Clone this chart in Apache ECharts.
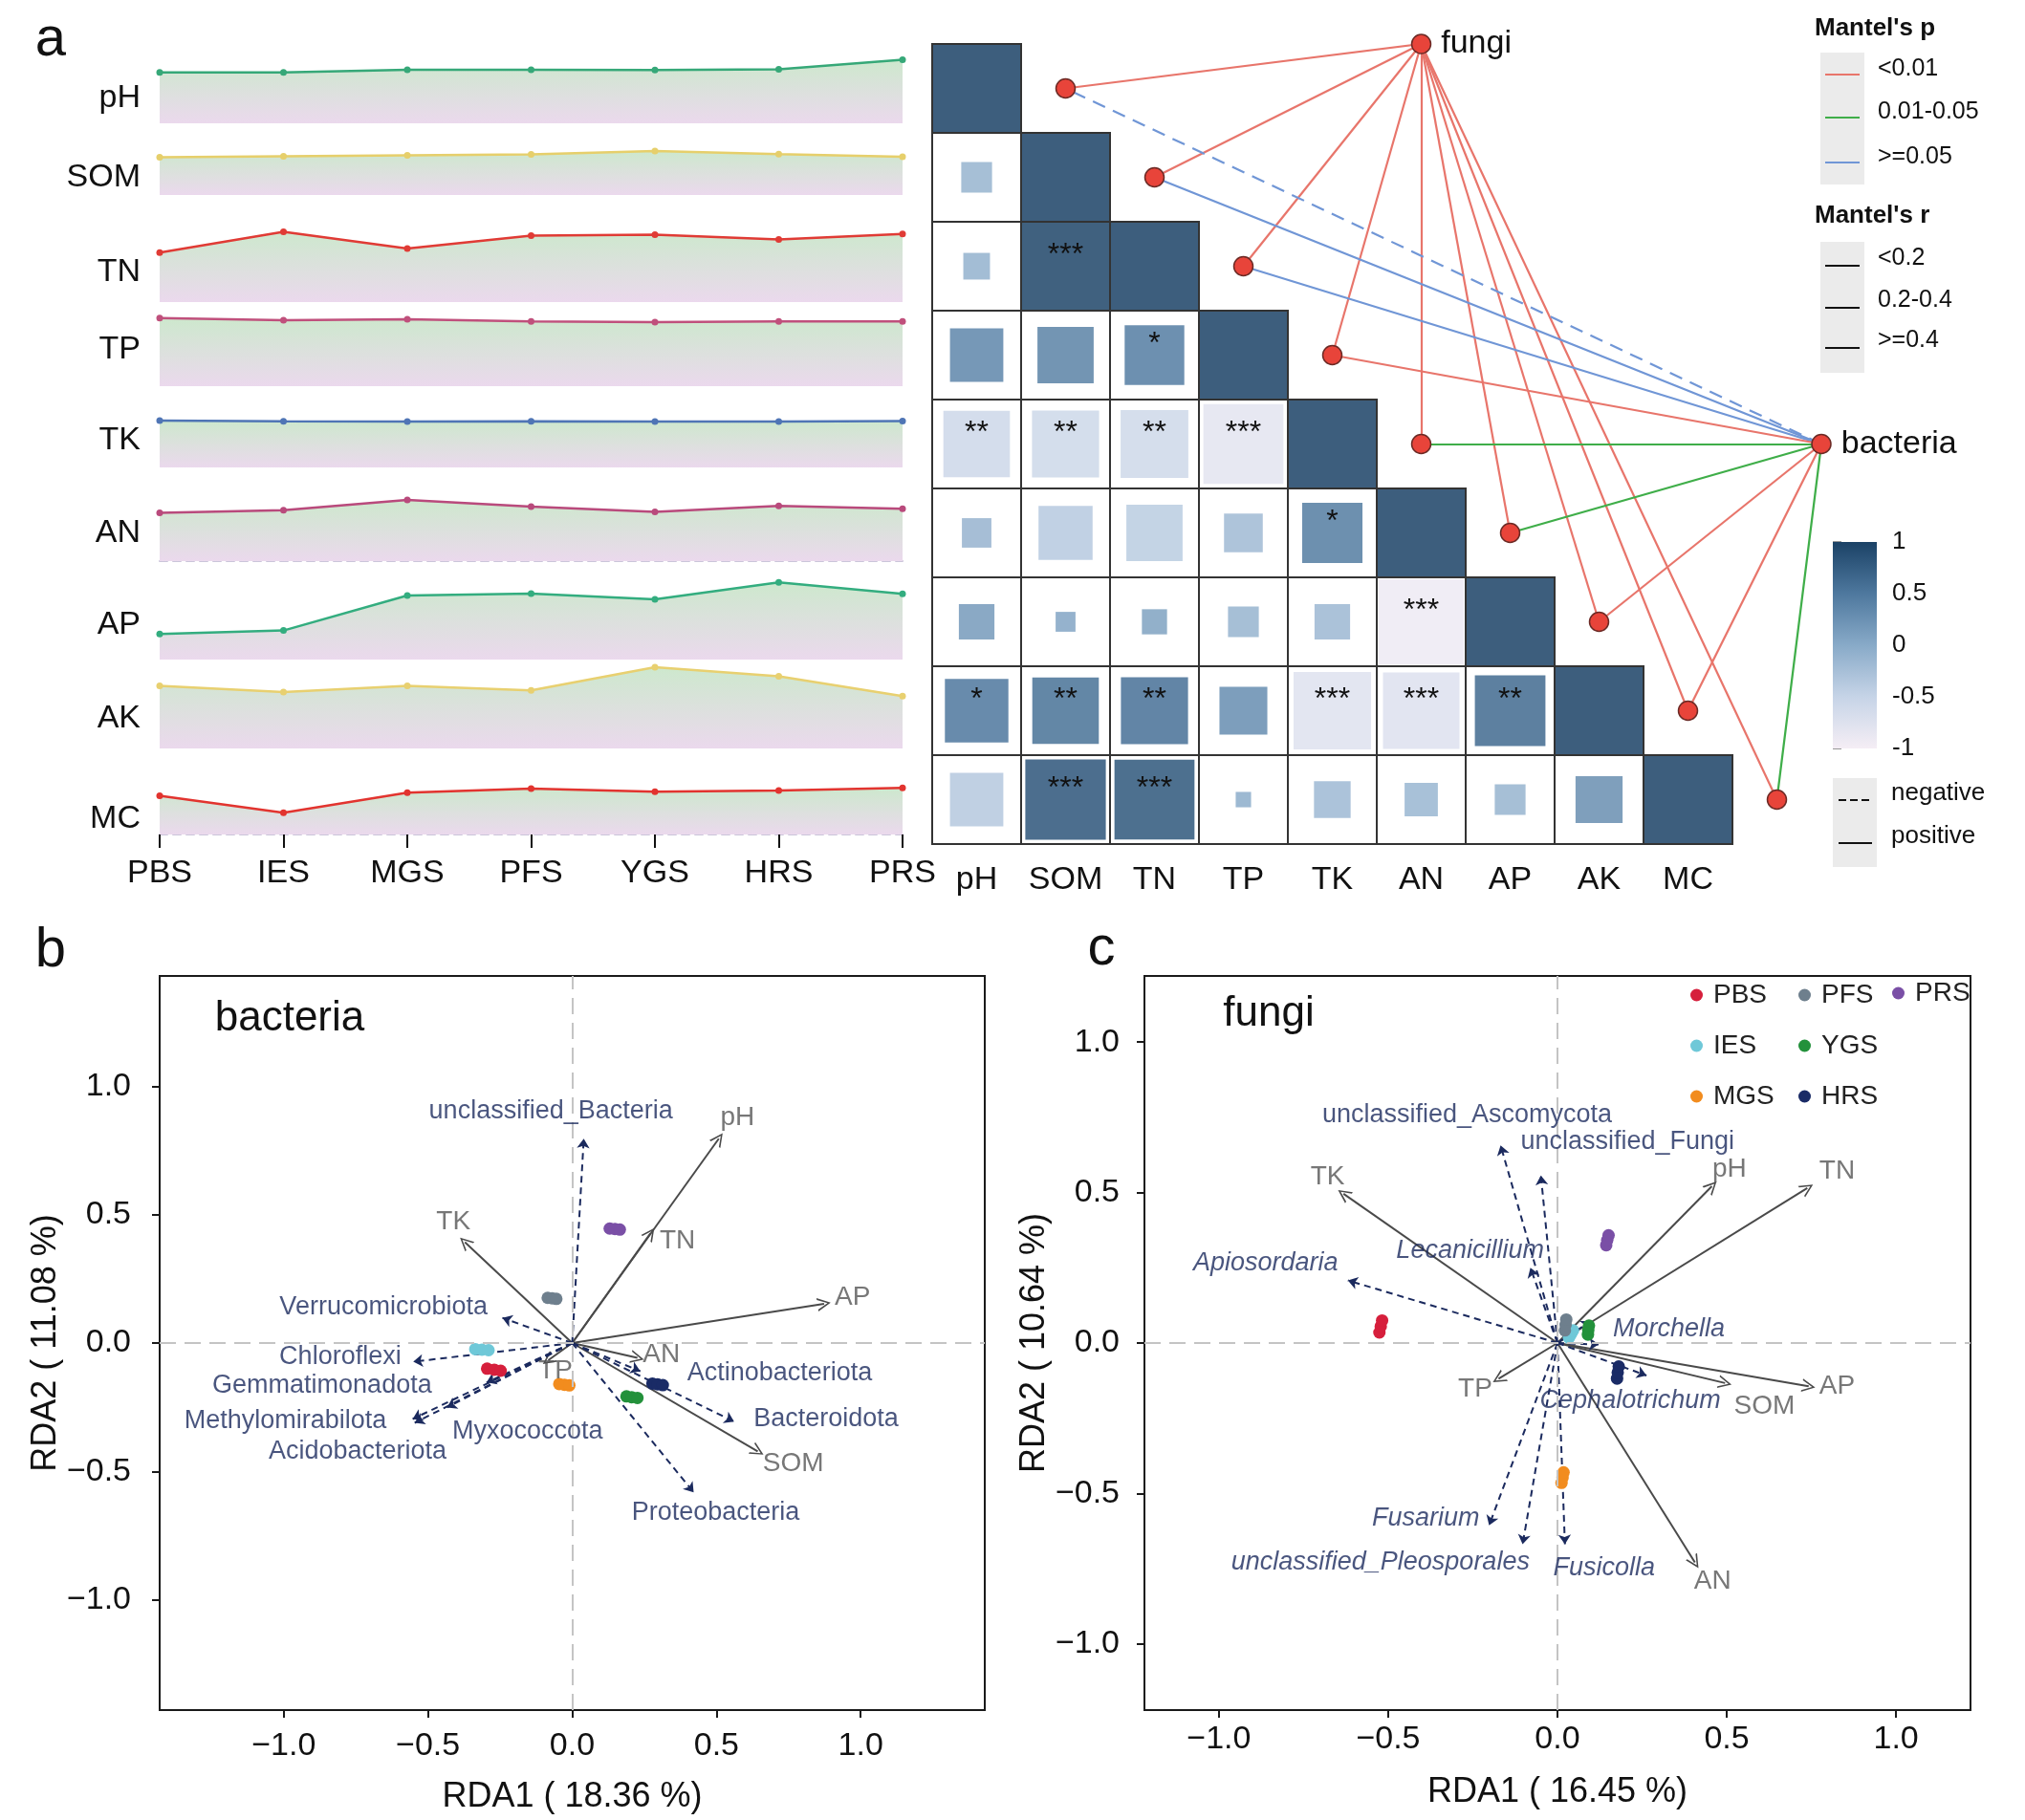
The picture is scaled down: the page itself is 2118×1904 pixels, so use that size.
<!DOCTYPE html>
<html><head><meta charset="utf-8">
<script src="https://cdn.jsdelivr.net/npm/echarts@6/dist/echarts.min.js"></script>
<style>html,body{margin:0;padding:0;background:#fff}#c{width:2118px;height:1904px}</style>
</head><body><div id="c"></div>
<script>
// ================= DATA =================
const sites = ['PBS','IES','MGS','PFS','YGS','HRS','PRS'];
const soilVars = ['pH','SOM','TN','TP','TK','AN','AP','AK','MC'];

// panel a (left): relative level of each soil property per site (0-100 relative scale)
const relPH  = [59.3, 59.3, 62.2, 62.2, 61.9, 62.7, 73.8];
const relSOM = [43.8, 44.9, 46.0, 47.1, 51.1, 47.4, 44.4];
const relTN  = [57.4, 81.6, 62.2, 77.1, 78.2, 72.7, 79.3];
const relTP  = [79.3, 76.7, 77.8, 75.2, 74.4, 75.2, 75.2];
const relTK  = [54.4, 53.7, 53.3, 53.7, 53.3, 53.3, 54.0];
const relAN  = [56.0, 59.3, 71.1, 63.3, 57.1, 64.1, 60.8];
const relAP  = [29.7, 33.8, 74.4, 76.7, 70.0, 89.7, 76.3];
const relAK  = [72.7, 65.6, 72.7, 67.4, 94.4, 83.8, 60.8];
const relMC  = [44.9, 25.2, 48.6, 53.3, 49.7, 51.1, 54.1];

// panel a (heatmap): lower-triangle Pearson r (row i, cols 0..i)
const corrR = [
  [1],
  [-0.12, 1],
  [-0.09, 0.97, 1],
  [0.36, 0.40, 0.45, 1],
  [-0.56, -0.57, -0.58, -0.81, 1],
  [-0.11, -0.37, -0.40, -0.19, 0.46, 1],
  [0.16, 0.05, 0.08, -0.12, -0.16, -0.92, 1],
  [0.51, 0.56, 0.57, 0.29, -0.76, -0.74, 0.63, 1],
  [-0.36, 0.82, 0.81, -0.03, -0.17, -0.14, -0.12, 0.28, 1]
];
const corrSig = [
  [''],
  ['', ''],
  ['', '***', ''],
  ['', '', '*', ''],
  ['**', '**', '**', '***', ''],
  ['', '', '', '', '*', ''],
  ['', '', '', '', '', '***', ''],
  ['*', '**', '**', '', '***', '***', '**', ''],
  ['', '***', '***', '', '', '', '', '', '']
];

// Mantel tests
const pLevels = ['<0.01', '0.01-0.05', '>=0.05'];
const rLevels = ['<0.2', '0.2-0.4', '>=0.4'];
const signLevels = ['negative', 'positive'];
const mantelFungiP    = ['<0.01','<0.01','<0.01','<0.01','<0.01','<0.01','<0.01','<0.01','<0.01'];
const mantelFungiSign = ['positive','positive','positive','positive','positive','positive','positive','positive','positive'];
const mantelBactP     = ['>=0.05','>=0.05','>=0.05','<0.01','0.01-0.05','0.01-0.05','<0.01','<0.01','0.01-0.05'];
const mantelBactSign  = ['negative','positive','positive','positive','positive','positive','positive','positive','positive'];
const colorbarTicks = [-1, -0.5, 0, 0.5, 1];

// panel b: bacteria RDA
const bEnvNames = ['pH','TN','TK','AP','AN','SOM','TP'];
const bEnvX = [0.508, 0.271, -0.372, 0.873, 0.226, 0.643, -0.083];
const bEnvY = [0.796, 0.427, 0.393, 0.153, -0.058, -0.422, -0.067];
const bSpNames = ['unclassified_Bacteria','Verrucomicrobiota','Chloroflexi','Gemmatimonadota','Methylomirabilota',
                  'Acidobacteriota','Myxococcota','Actinobacteriota','Bacteroidota','Proteobacteria'];
const bSpX = [0.040, -0.242, -0.551, -0.297, -0.553, -0.546, -0.434, 0.236, 0.561, 0.421];
const bSpY = [0.796, 0.098, -0.073, -0.154, -0.296, -0.311, -0.251, -0.110, -0.306, -0.582];
const bSamples = [
  [[-0.295,-0.100],[-0.270,-0.104],[-0.248,-0.108]],   // PBS
  [[-0.336,-0.024],[-0.313,-0.026],[-0.290,-0.028]],   // IES
  [[-0.045,-0.160],[-0.027,-0.163],[-0.010,-0.165]],   // MGS
  [[-0.085,0.176],[-0.070,0.174],[-0.055,0.172]],      // PFS
  [[0.188,-0.208],[0.206,-0.211],[0.226,-0.214]],      // YGS
  [[0.278,-0.158],[0.296,-0.161],[0.314,-0.164]],      // HRS
  [[0.130,0.446],[0.148,0.444],[0.165,0.442]]          // PRS
];

// panel c: fungi RDA
const cEnvNames = ['TK','pH','TN','AP','SOM','AN','TP'];
const cEnvX = [-0.632, 0.456, 0.738, 0.742, 0.495, 0.406, -0.174];
const cEnvY = [0.496, 0.521, 0.515, -0.144, -0.133, -0.729, -0.119];
const cSpNames = ['unclassified_Ascomycota','unclassified_Fungi','Lecanicillium','Apiosordaria','Morchella','',
                  'Cephalotrichum','Fusarium','unclassified_Pleosporales','Fusicolla'];
const cSpX = [-0.168, -0.049, -0.080, -0.619, 0.099, 0.122, 0.263, -0.202, -0.103, 0.022];
const cSpY = [0.657, 0.557, 0.250, 0.208, 0.073, -0.005, -0.108, -0.606, -0.669, -0.669];
const cSpItalic = [false, false, true, true, true, true, true, true, true, true];
const cSamples = [
  [[-0.526,0.035],[-0.522,0.055],[-0.518,0.075]],      // PBS
  [[0.034,0.018],[0.040,0.030],[0.046,0.042]],         // IES
  [[0.012,-0.465],[0.015,-0.448],[0.018,-0.430]],      // MGS
  [[0.022,0.042],[0.024,0.060],[0.026,0.078]],         // PFS
  [[0.090,0.028],[0.091,0.043],[0.093,0.058]],         // YGS
  [[0.176,-0.118],[0.178,-0.098],[0.181,-0.078]],      // HRS
  [[0.144,0.325],[0.147,0.342],[0.151,0.358]]          // PRS
];
const rdaTicks = [-1, -0.5, 0, 0.5, 1];

// ================= LAYOUT / STYLE =================
const FONT = "'Liberation Sans', Arial, Helvetica, sans-serif";
const relSeries = [relPH, relSOM, relTN, relTP, relTK, relAN, relAP, relAK, relMC];
const lineColors = ['#36a878','#e6cf6b','#e03b35','#c0507c','#4f75b5','#b94a7c','#33ad7f','#e8d070','#e2342f'];
const panelBottoms = [129, 204, 316, 404, 489, 587, 690, 783, 873];
const PANEL_H = 90;
const rowLabelDy = [10, 0, 6, -6, -4, 0, 3, 8, 20];   // vertical nudge of row names (px)
const siteColors = ['#d61f3c','#6fc8d8','#f28c1e','#6e7f8d','#23913b','#1a2b66','#7a4fa6'];
const pColors = {'<0.01':'#e8756b', '0.01-0.05':'#3fae49', '>=0.05':'#7096d6'};
const cbStops = [[-1,'#f5eef5'],[-0.5,'#c6d4e7'],[0,'#88aac8'],[0.5,'#4e789e'],[1,'#1b4266']];
const HM_LEFT = 975, HM_TOP = 46, HM_W = 837, HM_H = 837;
const CELL = HM_W / 9;
const fungiAt = [5.5, 0.0], bactAt = [10.0, 4.5];   // network anchors (cell units)

// label placement (data units of each RDA panel)
const bEnvLabelAt = [[0.573,0.878],[0.365,0.396],[-0.412,0.471],[0.972,0.178],[0.309,-0.044],[0.766,-0.471],[-0.058,-0.109]];
const bSpLabelAt = [[-0.074,0.904],[-0.654,0.138],[-0.804,-0.056],[-0.867,-0.167],[-0.994,-0.304],
                    [-0.744,-0.422],[-0.155,-0.344],[0.719,-0.116],[0.880,-0.296],[0.497,-0.660]];
const cEnvLabelAt = [[-0.679,0.553],[0.508,0.576],[0.826,0.572],[0.826,-0.144],[0.611,-0.210],[0.458,-0.792],[-0.243,-0.152]];
const cSpLabelAt = [[-0.267,0.756],[0.207,0.670],[-0.258,0.307],[-0.862,0.265],[0.329,0.047],[0.2,0.0],
                    [0.215,-0.193],[-0.389,-0.583],[-0.523,-0.729],[0.138,-0.748]];

function hex2rgb(h){ h=h.replace('#',''); return [parseInt(h.substr(0,2),16),parseInt(h.substr(2,2),16),parseInt(h.substr(4,2),16)]; }
function rColor(r){
  for (let i=0;i<cbStops.length-1;i++){
    const a=cbStops[i], b=cbStops[i+1];
    if (r>=a[0] && r<=b[0]){
      const t=(r-a[0])/(b[0]-a[0]); const ca=hex2rgb(a[1]), cb=hex2rgb(b[1]);
      return 'rgb('+ca.map((v,k)=>Math.round(v+(cb[k]-v)*t)).join(',')+')';
    }
  }
  return r<0?cbStops[0][1]:cbStops[cbStops.length-1][1];
}
const fmtTick = v => (v<0?'\u2212':'') + Math.abs(v).toFixed(1);

const grid = [], xAxis = [], yAxis = [], series = [];

// ---- panel a: line panels (grids 0..8)
relSeries.forEach((vals,k)=>{
  grid.push({left:167, right:2118-944, top:panelBottoms[k]-PANEL_H, height:PANEL_H});
  const last = k===8;
  xAxis.push({gridIndex:k, type:'category', data:sites, boundaryGap:false,
    axisLine:{show:(k===5||k===8), lineStyle:{type:[8,6], color:'#cbc5da', width:2}},
    axisTick:{show:last, length:14, lineStyle:{color:'#111', width:2}},
    axisLabel:{show:last, fontSize:34, color:'#111', margin:24, fontFamily:FONT, interval:0},
    splitLine:{show:false}});
  yAxis.push({gridIndex:k, type:'value', min:0, max:100, show:false});
  series.push({type:'line', xAxisIndex:k, yAxisIndex:k, data:vals, symbol:'circle', symbolSize:7,
    lineStyle:{color:lineColors[k], width:2.5}, itemStyle:{color:lineColors[k]},
    areaStyle:{opacity:1, color:new echarts.graphic.LinearGradient(0,0,0,1,[{offset:0,color:'#cde8cd'},{offset:1,color:'#ebd9ed'}])},
    z:2, silent:true});
});

// ---- heatmap grid (9)
const rowRich = {};
rowLabelDy.forEach((d,i)=>{ rowRich['o'+i] = {fontSize:34, color:'#111', fontFamily:FONT, padding: d>=0 ? [2*d,0,0,0] : [0,0,-2*d,0]}; });
grid.push({left:HM_LEFT, top:HM_TOP, width:HM_W, height:HM_H});
xAxis.push({gridIndex:9, type:'category', data:soilVars, axisLine:{show:false}, axisTick:{show:false},
  axisLabel:{fontSize:34, color:'#111', margin:21, interval:0, fontFamily:FONT}, splitLine:{show:false}});
yAxis.push({gridIndex:9, type:'category', data:soilVars, inverse:true, axisLine:{show:false}, axisTick:{show:false},
  axisLabel:{fontSize:34, color:'#111', margin:HM_LEFT-147, interval:0, fontFamily:FONT,
    formatter:(v,idx)=>'{o'+idx+'|'+v+'}', rich:rowRich}, splitLine:{show:false}});
const cells = [];
corrR.forEach((row,i)=>row.forEach((r,j)=>cells.push({value:[j,i,r], sig:corrSig[i][j]})));
series.push({type:'custom', xAxisIndex:9, yAxisIndex:9, data:cells.map(c=>c.value), z:3, silent:true,
  renderItem:(params, api)=>{
    const c = api.coord([api.value(0), api.value(1)]);
    const s = api.size([1,1]); const w=s[0], h=s[1];
    const r = api.value(2); const f = Math.sqrt(Math.abs(r));
    const sig = cells[params.dataIndex].sig;
    return {type:'group', children:[
      {type:'rect', shape:{x:c[0]-w/2, y:c[1]-h/2, width:w, height:h}, style:{fill:'#fff'}},
      {type:'rect', shape:{x:c[0]-w*f/2, y:c[1]-h*f/2, width:w*f, height:h*f}, style:{fill:rColor(r), opacity:0.85}},
      {type:'rect', shape:{x:c[0]-w/2, y:c[1]-h/2, width:w, height:h}, style:{fill:'none', stroke:'#333', lineWidth:2}},
      {type:'text', style:{text:sig, x:c[0], y:c[1]-0.12*h, align:'center', verticalAlign:'middle',
        textAlign:'center', textVerticalAlign:'middle', font:'32px '+FONT, fill:'#111'}}
    ]};
  }});

// ---- network grid (10)
grid.push({left:HM_LEFT, top:HM_TOP, width:CELL*11, height:HM_H});
xAxis.push({gridIndex:10, type:'value', min:0, max:11, show:false});
yAxis.push({gridIndex:10, type:'value', min:0, max:9, inverse:true, show:false});
const nodePos = soilVars.map((v,i)=>[i+1.5, i+0.5]);
const edges = [];
soilVars.forEach((v,i)=>{
  edges.push({coords:[fungiAt, nodePos[i]], lineStyle:{color:pColors[mantelFungiP[i]], type:mantelFungiSign[i]==='negative'?[14,9]:'solid'}});
});
soilVars.forEach((v,i)=>{
  edges.push({coords:[bactAt, nodePos[i]], lineStyle:{color:pColors[mantelBactP[i]], type:mantelBactSign[i]==='negative'?[14,9]:'solid'}});
});
series.push({type:'lines', coordinateSystem:'cartesian2d', xAxisIndex:10, yAxisIndex:10, data:edges,
  lineStyle:{width:2.2, opacity:1}, symbol:['none','none'], z:4, silent:true});
series.push({type:'scatter', xAxisIndex:10, yAxisIndex:10, symbolSize:20, z:5, silent:true,
  itemStyle:{color:'#e8443a', borderColor:'#6b2a25', borderWidth:1.5, opacity:1},
  label:{show:true, position:'right', distance:10, fontSize:34, color:'#111', fontFamily:FONT, formatter:'{b}'},
  data: nodePos.map(p=>({value:p, name:'', label:{show:false}}))
        .concat([{value:fungiAt, name:'fungi'},{value:bactAt, name:'bacteria'}])});

// ---- colorbar grid (11)
grid.push({left:1917, top:567, width:46, height:216});
xAxis.push({gridIndex:11, type:'value', min:0, max:1, show:false});
yAxis.push({gridIndex:11, type:'value', min:-1, max:1, interval:0.5, position:'right',
  axisLine:{show:false}, splitLine:{show:false},
  axisTick:{show:true, length:9, lineStyle:{color:'#777', width:1.5}},
  axisLabel:{fontSize:26, color:'#111', margin:16, fontFamily:FONT, formatter:v=>String(v)}});
series.push({type:'custom', xAxisIndex:11, yAxisIndex:11, data:[[0]], silent:true,
  renderItem:(params, api)=>{
    const tl = api.coord([0, colorbarTicks[colorbarTicks.length-1]]);
    const br = api.coord([1, colorbarTicks[0]]);
    const stops = cbStops.slice().reverse().map(s=>({offset:(1-s[0])/2, color:s[1]}));
    return {type:'rect', shape:{x:tl[0], y:tl[1], width:br[0]-tl[0], height:br[1]-tl[1]},
      style:{fill:new echarts.graphic.LinearGradient(0,0,0,1,stops)}};
  }});

// ---- RDA panels (12: bacteria, 13: fungi)
const chevron = 'path://M0,12 L6,0 L12,12 L10.4,12 L6,2.9 L1.6,12 Z';
function rdaPanel(gi, box, lim, xName, yName, lay, env, envLab, sp, spLab, spItalic, samples){
  grid.push({left:box[0], top:box[1], width:box[2], height:box[3], show:true, borderColor:'#1a1a1a', borderWidth:2, backgroundColor:'rgba(0,0,0,0)'});
  xAxis.push({gridIndex:gi, type:'value', min:-lim, max:lim, splitLine:{show:false},
    axisLine:{show:true, onZero:false, lineStyle:{color:'#1a1a1a', width:2}},
    axisTick:{show:true, customValues:rdaTicks, length:8, lineStyle:{color:'#1a1a1a', width:2}},
    axisLabel:{customValues:rdaTicks, formatter:fmtTick, fontSize:34, color:'#111', margin:lay.xMargin, fontFamily:FONT},
    name:xName, nameLocation:'middle', nameGap:lay.xNameGap, nameTextStyle:{fontSize:36, color:'#111', fontFamily:FONT}});
  yAxis.push({gridIndex:gi, type:'value', min:-lim, max:lim, splitLine:{show:false},
    axisLine:{show:true, onZero:false, lineStyle:{color:'#1a1a1a', width:2}},
    axisTick:{show:true, customValues:rdaTicks, length:8, lineStyle:{color:'#1a1a1a', width:2}},
    axisLabel:{customValues:rdaTicks, formatter:fmtTick, fontSize:34, color:'#111', margin:lay.yMargin, fontFamily:FONT},
    name:yName, nameLocation:'middle', nameGap:lay.yNameGap, nameTextStyle:{fontSize:36, color:'#111', fontFamily:FONT}});
  // zero reference lines
  series.push({type:'scatter', xAxisIndex:gi, yAxisIndex:gi, data:[[0,0]], symbolSize:0, silent:true, z:1,
    markLine:{silent:true, symbol:'none', label:{show:false}, animation:false,
      lineStyle:{type:[17,9], color:'#c4c4c4', width:2}, data:[{xAxis:0},{yAxis:0}]}});
  // environmental arrows
  series.push({type:'lines', coordinateSystem:'cartesian2d', xAxisIndex:gi, yAxisIndex:gi, silent:true, z:3,
    symbol:['none', chevron], symbolSize:14, lineStyle:{color:'#4a4a4a', width:2, opacity:1},
    data: env.names.map((n,i)=>({coords:[[0,0],[env.x[i], env.y[i]]]}))});
  // species arrows
  series.push({type:'lines', coordinateSystem:'cartesian2d', xAxisIndex:gi, yAxisIndex:gi, silent:true, z:3,
    symbol:['none','arrow'], symbolSize:10, lineStyle:{color:'#1b2a5e', width:2, type:[7,5], opacity:1},
    data: sp.names.map((n,i)=>({coords:[[0,0],[sp.x[i], sp.y[i]]]}))});
  // samples
  sites.forEach((s,k)=>{
    series.push({type:'scatter', name:s, xAxisIndex:gi, yAxisIndex:gi, data:samples[k], symbolSize:13, z:4,
      itemStyle:{color:siteColors[k], opacity:1}, silent:true});
  });
  // labels
  series.push({type:'scatter', xAxisIndex:gi, yAxisIndex:gi, symbolSize:1, z:6, silent:true,
    itemStyle:{color:'rgba(0,0,0,0)'},
    label:{show:true, position:'inside', formatter:'{b}', fontSize:28, color:'#555', fontFamily:FONT},
    data: env.names.map((n,i)=>({name:n, value:envLab[i]}))});
  series.push({type:'scatter', xAxisIndex:gi, yAxisIndex:gi, symbolSize:1, z:6, silent:true,
    itemStyle:{color:'rgba(0,0,0,0)'},
    label:{show:true, position:'inside', formatter:'{b}', fontSize:27, color:'#1b2a5e', fontFamily:FONT},
    data: sp.names.map((n,i)=>({name:n, value:spLab[i], label:{fontStyle:(spItalic && spItalic[i])?'italic':'normal'}}))});
}
rdaPanel(12, [167,1021,863,768], 1.43, 'RDA1 ( 18.36 %)', 'RDA2 ( 11.08 %)', {xMargin:21, xNameGap:73, yMargin:30, yNameGap:97},
  {names:bEnvNames, x:bEnvX, y:bEnvY}, bEnvLabelAt, {names:bSpNames, x:bSpX, y:bSpY}, bSpLabelAt, null, bSamples);
rdaPanel(13, [1197,1021,864,768], 1.22, 'RDA1 ( 16.45 %)', 'RDA2 ( 10.64 %)', {xMargin:14, xNameGap:68, yMargin:26, yNameGap:93},
  {names:cEnvNames, x:cEnvX, y:cEnvY}, cEnvLabelAt, {names:cSpNames, x:cSpX, y:cSpY}, cSpLabelAt, cSpItalic, cSamples);

// ---- graphic: panel letters, inset titles, Mantel legend
function txt(t, x, y, size, opts){
  opts = opts||{};
  return {type:'text', silent:true, z:10, style:Object.assign({text:t, x:x, y:y, font:(opts.bold?'bold ':'')+size+'px '+FONT,
    fill:opts.fill||'#111', align:opts.align||'left', verticalAlign:'middle', textAlign:opts.align||'left', textVerticalAlign:'middle'})};
}
function hline(x1,x2,y,color,dash){
  return {type:'line', silent:true, z:10, shape:{x1:x1,y1:y,x2:x2,y2:y}, style:{stroke:color, lineWidth:2, lineDash:dash||null}};
}
const graphic = [
  txt('a', 53, 42, 58, {align:'center'}),
  txt('b', 53, 995, 58, {align:'center'}),
  txt('c', 1152, 993, 58, {align:'center'}),
  txt('bacteria', 303, 1066, 44, {align:'center'}),
  txt('fungi', 1327, 1061, 44, {align:'center'}),
  txt("Mantel's p", 1898, 30, 26, {bold:true}),
  {type:'rect', silent:true, z:9, shape:{x:1904, y:55, width:46, height:138}, style:{fill:'#ebebeb'}},
  txt("Mantel's r", 1898, 226, 26, {bold:true}),
  {type:'rect', silent:true, z:9, shape:{x:1904, y:253, width:46, height:137}, style:{fill:'#ebebeb'}},
  {type:'rect', silent:true, z:9, shape:{x:1917, y:814, width:46, height:93}, style:{fill:'#ebebeb'}}
];
const pLineY = [78, 123, 170];
pLevels.forEach((p,i)=>{ graphic.push(hline(1909, 1945, pLineY[i], pColors[p])); graphic.push(txt(p, 1964, pLineY[i]-6, 25)); });
const rLineY = [278, 322, 364];
rLevels.forEach((r,i)=>{ graphic.push(hline(1909, 1945, rLineY[i], '#111')); graphic.push(txt(r, 1964, rLineY[i]-8, 25)); });
const sLineY = [837, 882];
signLevels.forEach((s,i)=>{ graphic.push(hline(1923, 1958, sLineY[i], '#111', s==='negative'?[8,4]:null)); graphic.push(txt(s, 1978, sLineY[i]-7, 26)); });

const legendCommon = {orient:'vertical', itemWidth:13, itemHeight:13, itemGap:23, icon:'circle', padding:0,
  selectedMode:false, textStyle:{fontSize:28, color:'#222', fontFamily:FONT, lineHeight:30, padding:[0,0,0,6]}};
const legend = [
  Object.assign({data:sites.slice(0,3), left:1768, top:1026}, legendCommon),
  Object.assign({data:sites.slice(3,6), left:1881, top:1026}, legendCommon),
  Object.assign({data:sites.slice(6), left:1979, top:1024}, legendCommon)
];

const chart = echarts.init(document.getElementById('c'), null, {renderer:'canvas', width:2118, height:1904});
chart.setOption({
  animation:false, backgroundColor:'#fff',
  textStyle:{fontFamily:FONT},
  grid, xAxis, yAxis, series, graphic, legend
});
</script>
</body></html>
